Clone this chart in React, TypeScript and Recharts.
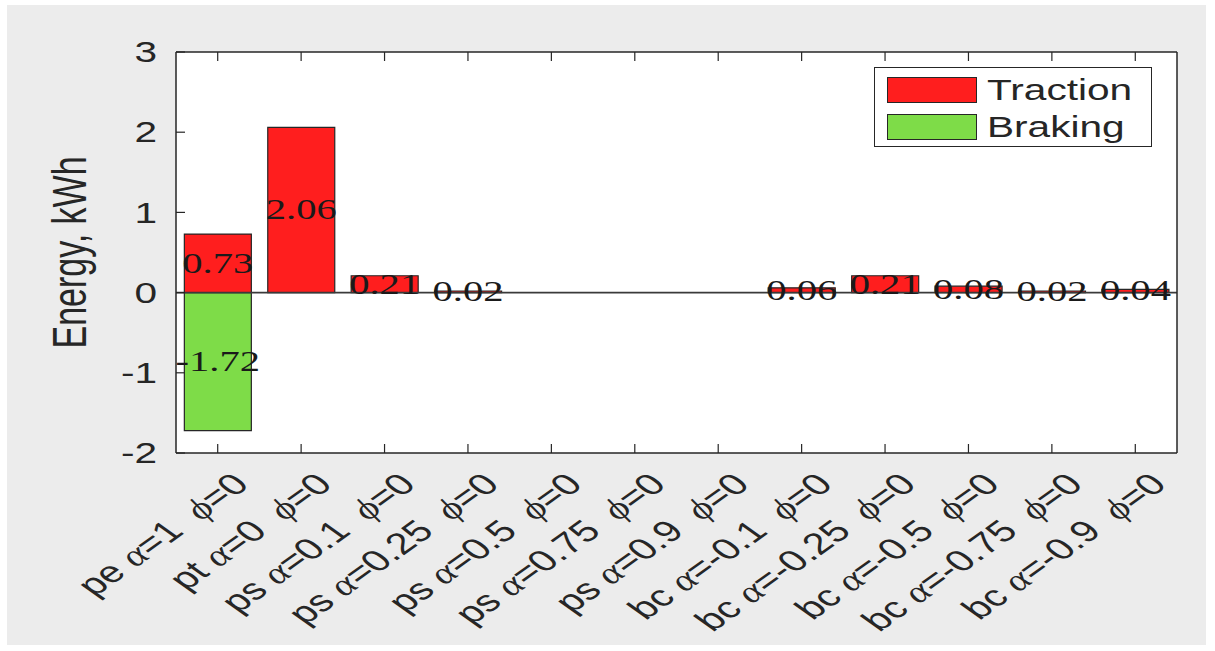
import React from 'react';
import { BarChart, Bar, XAxis, YAxis, CartesianGrid, ReferenceLine, Legend, LabelList } from 'recharts';

const categories = [
  'pe α=1 ϕ=0',
  'pt α=0 ϕ=0',
  'ps α=0.1 ϕ=0',
  'ps α=0.25 ϕ=0',
  'ps α=0.5 ϕ=0',
  'ps α=0.75 ϕ=0',
  'ps α=0.9 ϕ=0',
  'bc α=-0.1 ϕ=0',
  'bc α=-0.25 ϕ=0',
  'bc α=-0.5 ϕ=0',
  'bc α=-0.75 ϕ=0',
  'bc α=-0.9 ϕ=0',
];
const traction = [0.73, 2.06, 0.21, 0.02, 0, 0, 0, 0.06, 0.21, 0.08, 0.02, 0.04];
const braking = [-1.72, 0, 0, 0, 0, 0, 0, 0, 0, 0, 0, 0];
const yTicks = [-2, -1, 0, 1, 2, 3];
const seriesNames = ['Traction', 'Braking'];

const colors = { traction: '#ff1e1e', braking: '#7edc48' };
const ink = '#262626';
const SX = 1.4; // the reference picture is stretched sideways
const sans = "'Liberation Sans', Arial, sans-serif";
const serif = "'Liberation Serif', 'Times New Roman', serif";

const data = categories.map((name, i) => ({ name, traction: traction[i], braking: braking[i] }));

const BottomTick = (props: any) => {
  const { x, y, payload } = props;
  const parts: string[] = String(payload.value).split(/([αϕ])/);
  return (
    <g>
      <line x1={x} y1={y} x2={x} y2={y - 9} stroke={ink} strokeWidth={1.2} />
      <text
        transform={`translate(${x + 33},${y + 33}) scale(${SX},1) rotate(-45)`}
        textAnchor="end"
        fontSize={30}
        fontFamily={sans}
        fill={ink}
      >
        {parts.map((p, i) =>
          p === 'α' || p === 'ϕ' ? (
            <tspan key={i} fontFamily={serif} fontStyle="italic" dx={p === 'ϕ' ? 8 : 0}>
              {p}
            </tspan>
          ) : (
            <tspan key={i}>{p}</tspan>
          )
        )}
      </text>
    </g>
  );
};

const TopTick = (props: any) => {
  const { x, y } = props;
  return <line x1={x} y1={y} x2={x} y2={y + 9} stroke={ink} strokeWidth={1.2} />;
};

const LeftTick = (props: any) => {
  const { x, y, payload } = props;
  return (
    <g>
      <line x1={x} y1={y} x2={x + 9} y2={y} stroke={ink} strokeWidth={1.2} />
      <text
        transform={`translate(${x - 19},${y}) scale(${SX},1)`}
        textAnchor="end"
        dominantBaseline="central"
        fontSize={29}
        fontFamily={sans}
        fill={ink}
      >
        {payload.value}
      </text>
    </g>
  );
};

const RightTick = (props: any) => {
  const { x, y } = props;
  return <line x1={x} y1={y} x2={x - 9} y2={y} stroke={ink} strokeWidth={1.2} />;
};

const ValueLabel = (props: any) => {
  const { x, y, width, height, value } = props;
  if (!value) return null;
  const cx = x + width / 2;
  const cy = y + height / 2;
  return (
    <text
      transform={`translate(${cx},${cy}) scale(${SX},1)`}
      textAnchor="middle"
      dominantBaseline="central"
      fontSize={29}
      fontFamily={serif}
      fill="#1a1a1a"
    >
      {Number(value).toFixed(2)}
    </text>
  );
};

const LegendBox = (props: any) => {
  const items = [...(props.payload || [])].sort(
    (a: any, b: any) => seriesNames.indexOf(a.value) - seriesNames.indexOf(b.value)
  );
  return (
    <div style={{ position: 'relative', width: 276, height: 78, border: `1.5px solid ${ink}`, background: '#fff' }}>
      {items.map((item: any, i: number) => (
        <div key={item.value} style={{ position: 'absolute', left: 12, top: 9 + i * 37, height: 26, display: 'flex', alignItems: 'center' }}>
          <div style={{ width: 88, height: 24, background: item.color, border: `1.5px solid ${ink}` }} />
          <span
            style={{
              marginLeft: 10,
              fontFamily: sans,
              fontSize: 29,
              color: ink,
              display: 'inline-block',
              transform: `scaleX(${SX})`,
              transformOrigin: 'left center',
              whiteSpace: 'nowrap',
            }}
          >
            {item.value}
          </span>
        </div>
      ))}
    </div>
  );
};

export default function App() {
  return (
    <div style={{ position: 'absolute', left: 0, top: 0, width: 1215, height: 651, background: '#fff' }}>
      <div style={{ position: 'absolute', left: 7, top: 5, right: 9, bottom: 6, background: '#ececec' }} />
      <div style={{ position: 'absolute', left: 0, top: 0 }}>
        <BarChart
          width={1215}
          height={651}
          data={data}
          stackOffset="sign"
          barCategoryGap="10%"
          margin={{ top: 51, right: 37, bottom: 48, left: 116 }}
        >
          <CartesianGrid fill="#fff" horizontal={false} vertical={false} />
          <XAxis
            dataKey="name"
            interval={0}
            height={150}
            tickSize={0}
            tickMargin={0}
            tickLine={false}
            axisLine={{ stroke: ink, strokeWidth: 1.5 }}
            tick={<BottomTick />}
          />
          <XAxis
            xAxisId="top"
            dataKey="name"
            orientation="top"
            interval={0}
            height={1}
            tickSize={0}
            tickMargin={0}
            tickLine={false}
            axisLine={{ stroke: ink, strokeWidth: 1.5 }}
            tick={<TopTick />}
          />
          <YAxis
            domain={[-2, 3]}
            ticks={yTicks}
            width={60}
            tickSize={0}
            tickMargin={0}
            tickLine={false}
            axisLine={{ stroke: ink, strokeWidth: 1.5 }}
            tick={<LeftTick />}
            label={{
              value: 'Energy, kWh',
              angle: -90,
              position: 'insideLeft',
              content: (p: any) => {
                const vb = p.viewBox;
                const cy = vb.y + vb.height / 2;
                return (
                  <text
                    transform={`translate(86,${cy}) scale(${SX},1) rotate(-90)`}
                    textAnchor="middle"
                    fontSize={34}
                    fontFamily={sans}
                    fill={ink}
                  >
                    Energy, kWh
                  </text>
                );
              },
            }}
          />
          <YAxis
            yAxisId="right"
            orientation="right"
            domain={[-2, 3]}
            ticks={yTicks}
            width={1}
            tickSize={0}
            tickMargin={0}
            tickLine={false}
            axisLine={{ stroke: ink, strokeWidth: 1.5 }}
            tick={<RightTick />}
          />
          <ReferenceLine y={0} stroke="#3a3a3a" strokeWidth={1.6} />
          <Legend
            layout="vertical"
            align="center"
            verticalAlign="middle"
            wrapperStyle={{ position: 'absolute', left: 874, top: 67, width: 280, height: 82 }}
            content={<LegendBox />}
          />
          <Bar dataKey="traction" name="Traction" stackId="e" fill={colors.traction} stroke={ink} strokeWidth={1.2} isAnimationActive={false}>
            <LabelList dataKey="traction" content={<ValueLabel />} />
          </Bar>
          <Bar dataKey="braking" name="Braking" stackId="e" fill={colors.braking} stroke={ink} strokeWidth={1.2} isAnimationActive={false}>
            <LabelList dataKey="braking" content={<ValueLabel />} />
          </Bar>
        </BarChart>
      </div>
    </div>
  );
}
